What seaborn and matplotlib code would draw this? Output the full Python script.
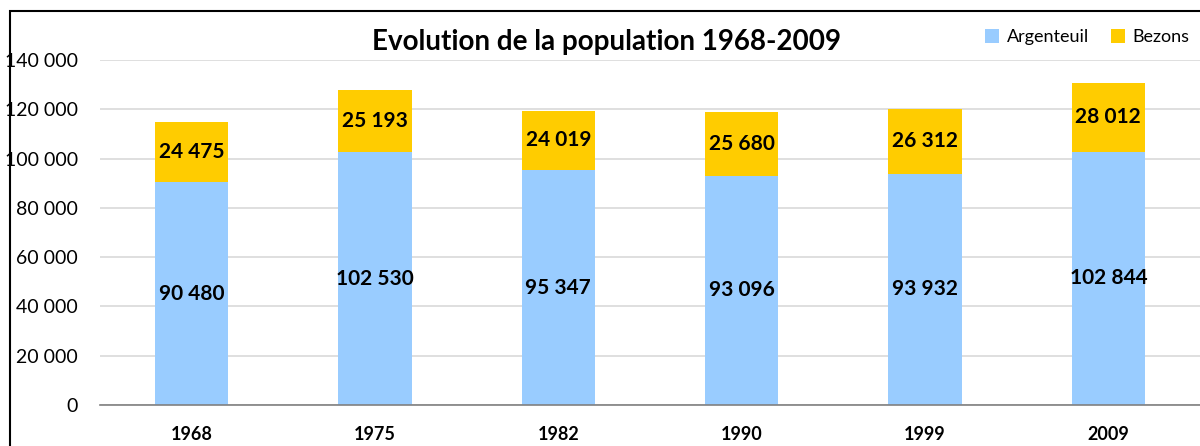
import matplotlib
matplotlib.use("Agg")
import matplotlib.pyplot as plt
import seaborn as sns
import pandas as pd
from matplotlib.patches import Rectangle, Patch
from matplotlib.ticker import FuncFormatter, FixedLocator

years = ["1968", "1975", "1982", "1990", "1999", "2009"]
argenteuil = [90480, 102530, 95347, 93096, 93932, 102844]
bezons = [24475, 25193, 24019, 25680, 26312, 28012]
series_names = ["Argenteuil", "Bezons"]
colors = ["#99CCFF", "#FFCC00"]
title = "Evolution de la population 1968-2009"

sns.set_style("white")
plt.rcParams['font.family'] = ['Lato', 'DejaVu Sans']
plt.rcParams['text.color'] = 'black'
plt.rcParams['xtick.color'] = 'black'
plt.rcParams['ytick.color'] = 'black'

df = pd.DataFrame({"year": years, "Argenteuil": argenteuil, "Bezons": bezons})

fig = plt.figure(figsize=(12, 4.46), dpi=100)
ax = fig.add_axes([100/1200, 1-405/446, 1100/1200, 345/446])

sns.barplot(data=df, x="year", y="Argenteuil", color=colors[0], width=0.4,
            ax=ax, saturation=1, linewidth=0)
sns.barplot(data=df, x="year", y="Bezons", color=colors[1], width=0.4,
            bottom=df["Argenteuil"], ax=ax, saturation=1, linewidth=0)

def fmt(v):
    return f"{int(v):,}".replace(",", " ")

for i, (a, b) in enumerate(zip(argenteuil, bezons)):
    ax.text(i, a/2, fmt(a), ha="center", va="center", fontsize=15, fontweight="bold", color="black")
    ax.text(i, a + b/2, fmt(b), ha="center", va="center", fontsize=15, fontweight="bold", color="black")

ax.set_xlim(-0.5, 5.5)
ax.set_ylim(0, 140000)
ax.yaxis.set_major_locator(FixedLocator(range(0, 140001, 20000)))
ax.yaxis.set_major_formatter(FuncFormatter(lambda v, p: fmt(v)))
ax.grid(axis="y", color="#D9D9D9", linewidth=1.2)
ax.set_axisbelow(True)
for s in ["top", "right", "left"]:
    ax.spines[s].set_visible(False)
ax.spines["bottom"].set_color("#808080")
ax.spines["bottom"].set_linewidth(1.2)
ax.set_xlabel("")
ax.set_ylabel("")
ax.tick_params(axis="y", length=0, labelsize=14, pad=16)
ax.tick_params(axis="x", which="major", length=0, labelsize=13, pad=15)
for lab in ax.get_xticklabels():
    lab.set_fontweight("bold")
ax.set_xticks([i - 0.5 for i in range(7)], minor=True)
ax.tick_params(axis="x", which="minor", length=5, color="#404040", width=1)

fig.text(607/1200, 1-42/446, title, ha="center", va="center", fontsize=20, fontweight="bold")

handles = [Patch(facecolor=c, edgecolor="none") for c in colors]
fig.legend(handles, series_names, loc="center right", bbox_to_anchor=(1.0, 1-37/446),
           ncol=2, frameon=False, fontsize=13, handlelength=0.8, handleheight=0.8,
           columnspacing=1.2, handletextpad=0.4, borderaxespad=0.2)

fig.patches.append(Rectangle((10/1200, -0.05), 1.1, 0.05 + (1-11/446), transform=fig.transFigure,
                             fill=False, edgecolor="black", linewidth=1.5))

fig.savefig("out.png", dpi=100)
